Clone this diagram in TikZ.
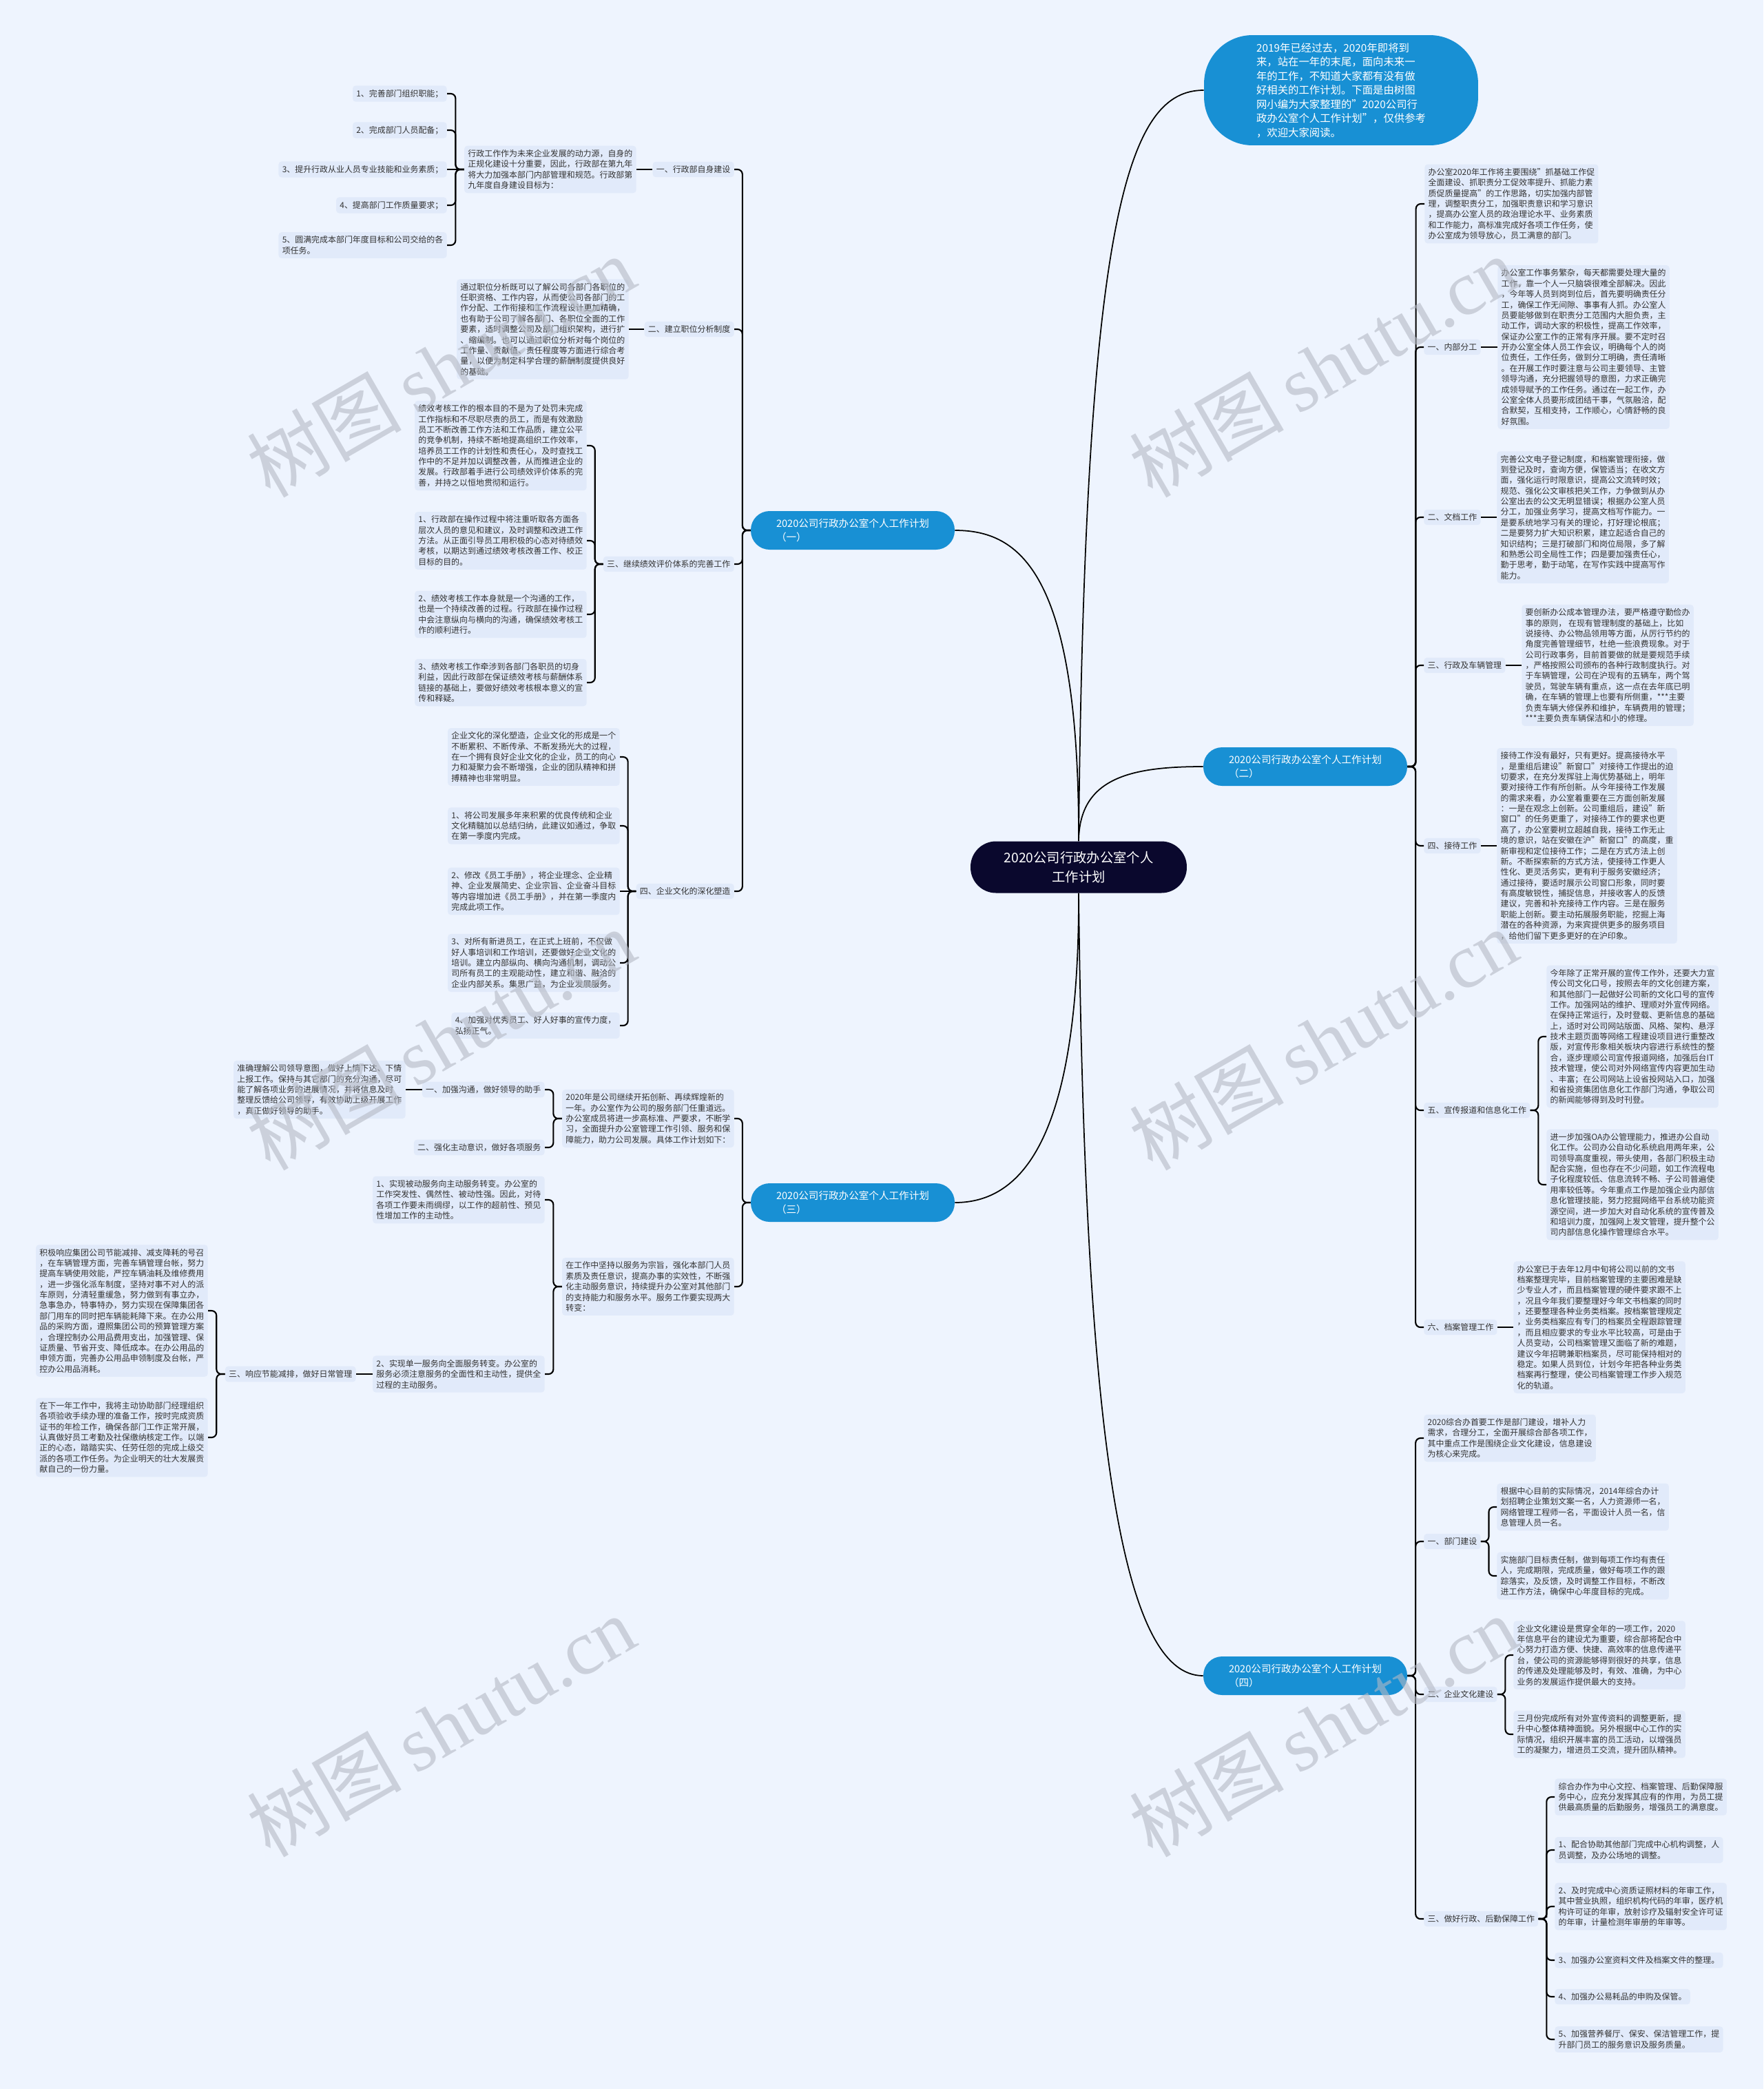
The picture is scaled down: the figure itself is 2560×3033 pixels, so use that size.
\documentclass[tikz,border=0pt]{standalone}
\usepackage{fontspec}
\setmainfont{Noto Sans CJK SC}
\newfontfamily\marklatin{Liberation Serif}
\usepackage{tikz}
\usetikzlibrary{calc}

\definecolor{pagebg}{RGB}{238,244,254}
\definecolor{boxfill}{RGB}{225,234,250}
\definecolor{mapblue}{RGB}{24,144,212}
\definecolor{rootnavy}{RGB}{10,8,45}
\definecolor{txtgray}{RGB}{51,51,51}
\definecolor{markgray}{RGB}{180,185,196}

\begin{document}
\begin{tikzpicture}[
        x=0.02cm, y=-0.02cm,
        txtbox/.style={fill=boxfill, text=txtgray, rounded corners=2.5pt, align=left,
            inner xsep=3pt, inner ysep=3.2pt, font=\fontsize{6.8}{8.75}\selectfont},
        lbox/.style={txtbox, anchor=east},
        rbox/.style={txtbox, anchor=west},
        branchnode/.style={fill=mapblue, text=white, rounded corners=15.5pt, align=left,
            minimum width=5.92cm, minimum height=1.12cm, inner sep=0pt,
            font=\fontsize{8.3}{11.1}\selectfont},
        barlink/.style={line width=1.2pt, rounded corners=4pt},
        rootlink/.style={line width=1pt},
        wmark/.style={text=markgray, opacity=0.6, rotate=30, font=\fontsize{64}{64}\selectfont}
    ]
% Page
\fill[pagebg] (0,0) rectangle (2560,3033);
\useasboundingbox (0,0) rectangle (2560,3033);

% Root and introduction
\node[fill=rootnavy, text=white, rounded corners=21pt, minimum width=6.28cm, minimum height=1.5cm,
      align=center, font=\fontsize{11}{15.9}\selectfont] (root) at (1566,1259)
      {2020公司行政办公室个人\\工作计划};
\node[fill=mapblue, text=white, rounded corners=40pt, minimum width=7.96cm, minimum height=3.2cm,
      align=left, font=\fontsize{8.75}{11.7}\selectfont] (intro) at (1947,131)
      {2019年已经过去，2020年即将到\\来，站在一年的末尾，面向未来一\\年的工作，不知道大家都有没有做\\好相关的工作计划。下面是由树图\\网小编为大家整理的"2020公司行\\政办公室个人工作计划"，仅供参考\\，欢迎大家阅读。};

% Main branches
\node[branchnode] (b1) at (1238,770)  {2020公司行政办公室个人工作计划\\（一）};
\node[branchnode] (b2) at (1895,1113) {2020公司行政办公室个人工作计划\\（二）};
\node[branchnode] (b3) at (1238,1746) {2020公司行政办公室个人工作计划\\（三）};
\node[branchnode] (b4) at (1895,2433) {2020公司行政办公室个人工作计划\\（四）};

% Branch one
\node[lbox] (a1) at (1066,246) {一、行政部自身建设};
\node[lbox] (a1t) at (924,246) {行政工作作为未来企业发展的动力源，自身的\\正规化建设十分重要，因此，行政部在第九年\\将大力加强本部门内部管理和规范。行政部第\\九年度自身建设目标为：};
\node[lbox] (a1i1) at (649,136) {1、完善部门组织职能；};
\node[lbox] (a1i2) at (649,189) {2、完成部门人员配备；};
\node[lbox] (a1i3) at (649,246) {3、提升行政从业人员专业技能和业务素质；};
\node[lbox] (a1i4) at (649,298) {4、提高部门工作质量要求；};
\node[lbox] (a1i5) at (649,356) {5、圆满完成本部门年度目标和公司交给的各\\项任务。};

\node[lbox] (a2) at (1066,478) {二、建立职位分析制度};
\node[lbox] (a2t) at (913,478) {通过职位分析既可以了解公司各部门各职位的\\任职资格、工作内容，从而使公司各部门的工\\作分配、工作衔接和工作流程设计更加精确，\\也有助于公司了解各部门、各职位全面的工作\\要素，适时调整公司及部门组织架构，进行扩\\、缩编制。也可以通过职位分析对每个岗位的\\工作量、贡献值、责任程度等方面进行综合考\\量，以便为制定科学合理的薪酬制度提供良好\\的基础。};

\node[lbox] (a3) at (1066,819) {三、继续绩效评价体系的完善工作};
\node[lbox] (a3t1) at (852,647) {绩效考核工作的根本目的不是为了处罚未完成\\工作指标和不尽职尽责的员工，而是有效激励\\员工不断改善工作方法和工作品质，建立公平\\的竞争机制，持续不断地提高组织工作效率，\\培养员工工作的计划性和责任心，及时查找工\\作中的不足并加以调整改善，从而推进企业的\\发展。行政部着手进行公司绩效评价体系的完\\善，并持之以恒地贯彻和运行。};
\node[lbox] (a3t2) at (852,785) {1、行政部在操作过程中将注重听取各方面各\\层次人员的意见和建议，及时调整和改进工作\\方法。从正面引导员工用积极的心态对待绩效\\考核，以期达到通过绩效考核改善工作、校正\\目标的目的。};
\node[lbox] (a3t3) at (852,892) {2、绩效考核工作本身就是一个沟通的工作，\\也是一个持续改善的过程。行政部在操作过程\\中会注意纵向与横向的沟通，确保绩效考核工\\作的顺利进行。};
\node[lbox] (a3t4) at (852,991) {3、绩效考核工作牵涉到各部门各职员的切身\\利益，因此行政部在保证绩效考核与薪酬体系\\链接的基础上，要做好绩效考核根本意义的宣\\传和释疑。};

\node[lbox] (a4) at (1066,1294) {四、企业文化的深化塑造};
\node[lbox] (a4t1) at (900,1099) {企业文化的深化塑造，企业文化的形成是一个\\不断累积、不断传承、不断发扬光大的过程，\\在一个拥有良好企业文化的企业，员工的向心\\力和凝聚力会不断增强，企业的团队精神和拼\\搏精神也非常明显。};
\node[lbox] (a4t2) at (900,1199) {1、将公司发展多年来积累的优良传统和企业\\文化精髓加以总结归纳，此建议如通过，争取\\在第一季度内完成。};
\node[lbox] (a4t3) at (900,1294) {2、修改《员工手册》，将企业理念、企业精\\神、企业发展简史、企业宗旨、企业奋斗目标\\等内容增加进《员工手册》，并在第一季度内\\完成此项工作。};
\node[lbox] (a4t4) at (900,1398) {3、对所有新进员工，在正式上班前，不仅做\\好人事培训和工作培训，还要做好企业文化的\\培训。建立内部纵向、横向沟通机制，调动公\\司所有员工的主观能动性，建立和谐、融洽的\\企业内部关系。集思广益，为企业发展服务。};
\node[lbox] (a4t5) at (900,1489) {4、加强对优秀员工、好人好事的宣传力度，\\弘扬正气。};

% Branch three
\node[lbox] (p1) at (1066,1624) {2020年是公司继续开拓创新、再续辉煌新的\\一年。办公室作为公司的服务部门任重道远。\\办公室成员将进一步高标准、严要求，不断学\\习，全面提升办公室管理工作引领、服务和保\\障能力，助力公司发展。具体工作计划如下：};
\node[lbox] (c1) at (791,1582) {一、加强沟通，做好领导的助手};
\node[lbox] (c1t) at (589,1582) {准确理解公司领导意图，做好上情下达、下情\\上报工作。保持与其它部门的充分沟通，尽可\\能了解各项业务的进展情况，并将信息及时\\整理反馈给公司领导，有效协助上级开展工作\\，真正做好领导的助手。};
\node[lbox] (c2) at (791,1666) {二、强化主动意识，做好各项服务};
\node[lbox] (p2) at (1066,1868) {在工作中坚持以服务为宗旨，强化本部门人员\\素质及责任意识，提高办事的实效性，不断强\\化主动服务意识，持续提升办公室对其他部门\\的支持能力和服务水平。服务工作要实现两大\\转变：};
\node[lbox] (d1) at (791,1742) {1、实现被动服务向主动服务转变。办公室的\\工作突发性、偶然性、被动性强。因此，对待\\各项工作要未雨绸缪，以工作的超前性、预见\\性增加工作的主动性。};
\node[lbox] (d2) at (791,1995) {2、实现单一服务向全面服务转变。办公室的\\服务必须注意服务的全面性和主动性，提供全\\过程的主动服务。};
\node[lbox] (e0) at (517,1995) {三、响应节能减排，做好日常管理};
\node[lbox] (e1) at (302,1903) {积极响应集团公司节能减排、减支降耗的号召\\，在车辆管理方面，完善车辆管理台帐，努力\\提高车辆使用效能，严控车辆油耗及维修费用\\，进一步强化派车制度，坚持对事不对人的派\\车原则，分清轻重缓急，努力做到有事立办，\\急事急办，特事特办，努力实现在保障集团各\\部门用车的同时把车辆能耗降下来。在办公用\\品的采购方面，遵照集团公司的预算管理方案\\，合理控制办公用品费用支出，加强管理、保\\证质量、节省开支、降低成本。在办公用品的\\申领方面，完善办公用品申领制度及台帐，严\\控办公用品消耗。};
\node[lbox] (e2) at (302,2087) {在下一年工作中，我将主动协助部门经理组织\\各项验收手续办理的准备工作，按时完成资质\\证书的年检工作，确保各部门工作正常开展，\\认真做好员工考勤及社保缴纳核定工作。以端\\正的心态，踏踏实实、任劳任怨的完成上级交\\派的各项工作任务。为企业明天的壮大发展贡\\献自己的一份力量。};

% Branch two
\node[rbox] (r0) at (2068,296) {办公室2020年工作将主要围绕"抓基础工作促\\全面建设、抓职责分工促效率提升、抓能力素\\质促质量提高"的工作思路，切实加强内部管\\理，调整职责分工，加强职责意识和学习意识\\，提高办公室人员的政治理论水平、业务素质\\和工作能力，高标准完成好各项工作任务，使\\办公室成为领导放心，员工满意的部门。};
\node[rbox] (r1) at (2067,504) {一、内部分工};
\node[rbox] (r1t) at (2174,504) {办公室工作事务繁杂，每天都需要处理大量的\\工作，靠一个人一只脑袋很难全部解决。因此\\，今年等人员到岗到位后，首先要明确责任分\\工，确保工作无间隙、事事有人抓。办公室人\\员要能够做到在职责分工范围内大胆负责，主\\动工作，调动大家的积极性，提高工作效率，\\保证办公室工作的正常有序开展。要不定时召\\开办公室全体人员工作会议，明确每个人的岗\\位责任，工作任务，做到分工明确，责任清晰\\。在开展工作时要注意与公司主要领导、主管\\领导沟通，充分把握领导的意图，力求正确完\\成领导赋予的工作任务。通过在一起工作，办\\公室全体人员要形成团结干事，气氛融洽，配\\合默契，互相支持，工作顺心，心情舒畅的良\\好氛围。};
\node[rbox] (r2) at (2067,751) {二、文档工作};
\node[rbox] (r2t) at (2173,751) {完善公文电子登记制度，和档案管理衔接，做\\到登记及时，查询方便，保管适当；在收文方\\面，强化运行时限意识，提高公文流转时效；\\规范、强化公文审核把关工作，力争做到从办\\公室出去的公文无明显错误；根据办公室人员\\分工，加强业务学习，提高文档写作能力。一\\是要系统地学习有关的理论，打好理论根底；\\二是要努力扩大知识积累，建立起适合自己的\\知识结构；三是打破部门和岗位局限，多了解\\和熟悉公司全局性工作；四是要加强责任心，\\勤于思考，勤于动笔，在写作实践中提高写作\\能力。};
\node[rbox] (r3) at (2067,966) {三、行政及车辆管理};
\node[rbox] (r3t) at (2209,966) {要创新办公成本管理办法，要严格遵守勤俭办\\事的原则，\ 在现有管理制度的基础上，比如\\说接待、办公物品领用等方面，从厉行节约的\\角度完善管理细节，杜绝一些浪费现象。对于\\公司行政事务，目前首要做的就是要规范手续\\，严格按照公司颁布的各种行政制度执行。对\\于车辆管理，公司在沪现有的五辆车，两个驾\\驶员，驾驶车辆有重点，这一点在去年底已明\\确，在车辆的管理上也要有所侧重，***主要\\负责车辆大修保养和维护，车辆费用的管理；\\***主要负责车辆保洁和小的修理。};
\node[rbox] (r4) at (2067,1228) {四、接待工作};
\node[rbox] (r4t) at (2173,1228) {接待工作没有最好，只有更好。提高接待水平\\，是重组后建设"新窗口"对接待工作提出的迫\\切要求，在充分发挥驻上海优势基础上，明年\\要对接待工作有所创新。从今年接待工作发展\\的需求来看，办公室着重要在三方面创新发展\\：一是在观念上创新。公司重组后，建设"新\\窗口"的任务更重了，对接待工作的要求也更\\高了，办公室要树立超越自我，接待工作无止\\境的意识，站在安徽在沪"新窗口"的高度，重\\新审视和定位接待工作；二是在方式方法上创\\新。不断探索新的方式方法，使接待工作更人\\性化、更灵活务实，更有利于服务安徽经济；\\通过接待，要适时展示公司窗口形象，同时要\\有高度敏锐性，捕捉信息，并接收客人的反馈\\建议，完善和补充接待工作内容。三是在服务\\职能上创新。要主动拓展服务职能，挖掘上海\\潜在的各种资源，为来宾提供更多的服务项目\\，给他们留下更多更好的在沪印象。};
\node[rbox] (r5) at (2067,1612) {五、宣传报道和信息化工作};
\node[rbox] (r5t1) at (2245,1505) {今年除了正常开展的宣传工作外，还要大力宣\\传公司文化口号，按照去年的文化创建方案，\\和其他部门一起做好公司新的文化口号的宣传\\工作。加强网站的维护、理顺对外宣传网络。\\在保持正常运行，及时登载、更新信息的基础\\上，适时对公司网站版面、风格、架构、悬浮\\技术主题页面等网络工程建设项目进行重整改\\版，对宣传形象相关板块内容进行系统性的整\\合，逐步理顺公司宣传报道网络，加强后台IT\\技术管理，使公司对外网络宣传内容更加生动\\、丰富；在公司网站上设省投网站入口，加强\\和省投资集团信息化工作部门沟通，争取公司\\的新闻能够得到及时刊登。};
\node[rbox] (r5t2) at (2245,1720) {进一步加强OA办公管理能力，推进办公自动\\化工作。公司办公自动化系统启用两年来，公\\司领导高度重视，带头使用，各部门积极主动\\配合实施，但也存在不少问题，如工作流程电\\子化程度较低、信息流转不畅、子公司普遍使\\用率较低等。今年重点工作是加强企业内部信\\息化管理技能，努力挖掘网络平台系统功能资\\源空间，进一步加大对自动化系统的宣传普及\\和培训力度，加强网上发文管理，提升整个公\\司内部信息化操作管理综合水平。};
\node[rbox] (r6) at (2067,1927) {六、档案管理工作};
\node[rbox] (r6t) at (2197,1927) {办公室已于去年12月中旬将公司以前的文书\\档案整理完毕，目前档案管理的主要困难是缺\\少专业人才，而且档案管理的硬件要求跟不上\\，况且今年我们要整理好今年文书档案的同时\\，还要整理各种业务类档案。按档案管理规定\\，业务类档案应有专门的档案员全程跟踪管理\\，而且相应要求的专业水平比较高，可是由于\\人员变动，公司档案管理又面临了新的难题，\\建议今年招聘兼职档案员，尽可能保持相对的\\稳定。如果人员到位，计划今年把各种业务类\\档案再行整理，使公司档案管理工作步入规范\\化的轨道。};

% Branch four
\node[rbox] (s0) at (2067,2088) {2020综合办首要工作是部门建设，增补人力\\需求，合理分工，全面开展综合部各项工作，\\其中重点工作是围绕企业文化建设，信息建设\\为核心来完成。};
\node[rbox] (s1) at (2067,2238) {一、部门建设};
\node[rbox] (s1t1) at (2173,2188) {根据中心目前的实际情况，2014年综合办计\\划招聘企业策划文案一名，人力资源师一名，\\网络管理工程师一名，平面设计人员一名，信\\息管理人员一名。};
\node[rbox] (s1t2) at (2173,2288) {实施部门目标责任制，做到每项工作均有责任\\人，完成期限，完成质量，做好每项工作的跟\\踪落实，及反馈，及时调整工作目标，不断改\\进工作方法，确保中心年度目标的完成。};
\node[rbox] (s2) at (2067,2460) {二、企业文化建设};
\node[rbox] (s2t1) at (2197,2403) {企业文化建设是贯穿全年的一项工作，2020\\年信息平台的建设尤为重要，综合部将配合中\\心努力打造方便、快捷、高效率的信息传递平\\台，使公司的资源能够得到很好的共享，信息\\的传递及处理能够及时，有效、准确，为中心\\业务的发展运作提供最大的支持。};
\node[rbox] (s2t2) at (2197,2518) {三月份完成所有对外宣传资料的调整更新，提\\升中心整体精神面貌。另外根据中心工作的实\\际情况，组织开展丰富的员工活动，以增强员\\工的凝聚力，增进员工交流，提升团队精神。};
\node[rbox] (s3) at (2067,2786) {三、做好行政、后勤保障工作};
\node[rbox] (s3t0) at (2257,2609) {综合办作为中心文控、档案管理、后勤保障服\\务中心，应充分发挥其应有的作用，为员工提\\供最高质量的后勤服务，增强员工的满意度。};
\node[rbox] (s3t1) at (2257,2686) {1、配合协助其他部门完成中心机构调整，人\\员调整，及办公场地的调整。};
\node[rbox] (s3t2) at (2257,2768) {2、及时完成中心资质证照材料的年审工作，\\其中营业执照，组织机构代码的年审，医疗机\\构许可证的年审，放射诊疗及辐射安全许可证\\的年审，计量检测年审册的年审等。};
\node[rbox] (s3t3) at (2257,2846) {3、加强办公室资料文件及档案文件的整理。};
\node[rbox] (s3t4) at (2257,2899) {4、加强办公易耗品的申购及保管。};
\node[rbox] (s3t5) at (2257,2961) {5、加强营养餐厅、保安、保洁管理工作，提\\升部门员工的服务意识及服务质量。};

% Root to the branches
\draw[rootlink] (root.north) .. controls (1575,300) and (1640,131) .. (intro.west);
\draw[rootlink] (root.north) .. controls (1567,830) and (1480,770) .. (b1.east);
\draw[rootlink] (root.north) .. controls (1567,1130) and (1640,1113) .. (b2.west);
\draw[rootlink] (root.south) .. controls (1567,1660) and (1480,1746) .. (b3.east);
\draw[rootlink] (root.south) .. controls (1575,2100) and (1630,2433) .. (b4.west);

% Brackets on the left side
\foreach \p/\c in {b1/a1, b1/a2, b1/a3, b1/a4,
                   a1t/a1i1, a1t/a1i2, a1t/a1i4, a1t/a1i5,
                   a3/a3t1, a3/a3t2, a3/a3t3, a3/a3t4,
                   a4/a4t1, a4/a4t2, a4/a4t4, a4/a4t5,
                   b3/p1, b3/p2, p1/c1, p1/c2,
                   p2/d1, p2/d2, e0/e1, e0/e2}
    \draw[barlink] (\p.west) -| ($(\p.west)!.5!(\c.east)$) |- (\c.east);

% Level links on the left side
\foreach \p/\c in {a1/a1t, a1t/a1i3, a2/a2t, a4/a4t3, c1/c1t, d2/e0}
    \draw[barlink] (\p.west) -- (\c.east);

% Brackets on the right side
\foreach \p/\c in {b2/r0, b2/r1, b2/r2, b2/r3, b2/r4, b2/r5, b2/r6,
                   r5/r5t1, r5/r5t2,
                   b4/s0, b4/s1, b4/s2, b4/s3,
                   s1/s1t1, s1/s1t2, s2/s2t1, s2/s2t2,
                   s3/s3t0, s3/s3t1, s3/s3t2, s3/s3t3, s3/s3t4, s3/s3t5}
    \draw[barlink] (\p.east) -| ($(\p.east)!.5!(\c.west)$) |- (\c.west);

% Level links on the right side
\foreach \p/\c in {r1/r1t, r2/r2t, r3/r3t, r4/r4t, r6/r6t}
    \draw[barlink] (\p.east) -- (\c.west);

% Watermarks
\foreach \wx/\wy in {640/532, 640/1509, 640/2506, 1921/532, 1921/1509, 1921/2506}
    \node[wmark] at (\wx,\wy) {树图\,{\marklatin shutu.cn}};
\end{tikzpicture}
\end{document}
